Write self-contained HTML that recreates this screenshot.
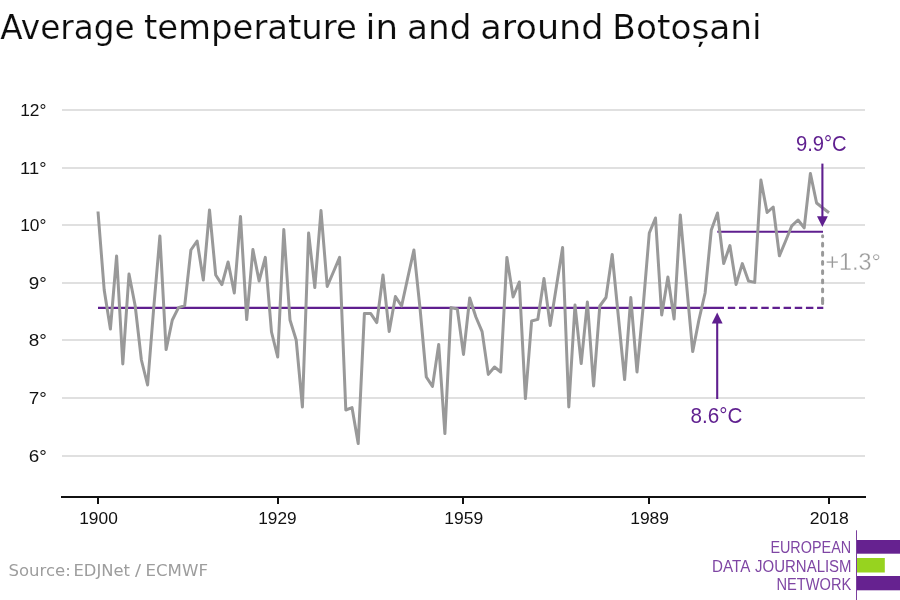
<!DOCTYPE html>
<html lang="en"><head><meta charset="utf-8"><title>Average temperature in and around Botoșani</title>
<style>
html,body{margin:0;padding:0;background:#fff;}
body{width:900px;height:600px;overflow:hidden;}
svg{display:block;will-change:transform;}
text{font-family:"Liberation Sans","DejaVu Sans",sans-serif;}
text.dj{font-family:"DejaVu Sans","Liberation Sans",sans-serif;}
</style></head><body>
<svg width="900" height="600" viewBox="0 0 900 600">
<rect width="900" height="600" fill="#fff"/>
<text class="dj" y="38.5" font-size="34.3" fill="#0c0c0c" stroke="#fff" stroke-width="0.2"><tspan x="0.36" textLength="134.40" lengthAdjust="spacingAndGlyphs">Average</tspan> <tspan x="144.01" textLength="212.79" lengthAdjust="spacingAndGlyphs">temperature</tspan> <tspan x="365.62" textLength="32.53" lengthAdjust="spacingAndGlyphs">in</tspan> <tspan x="407.00" textLength="64.42" lengthAdjust="spacingAndGlyphs">and</tspan> <tspan x="480.36" textLength="123.20" lengthAdjust="spacingAndGlyphs">around</tspan> <tspan x="612.35" textLength="149.32" lengthAdjust="spacingAndGlyphs">Botoșani</tspan></text>
<g stroke="#e0e0e0" stroke-width="2">
<line x1="62" y1="110.0" x2="865" y2="110.0"/>
<line x1="62" y1="168.0" x2="865" y2="168.0"/>
<line x1="62" y1="225.0" x2="865" y2="225.0"/>
<line x1="62" y1="283.0" x2="865" y2="283.0"/>
<line x1="62" y1="340.0" x2="865" y2="340.0"/>
<line x1="62" y1="398.0" x2="865" y2="398.0"/>
<line x1="62" y1="456.0" x2="865" y2="456.0"/>
</g>
<g fill="#111">
<text x="20.21" y="116" font-size="16.8" textLength="26.21" lengthAdjust="spacingAndGlyphs">12°</text>
<text x="20.14" y="174" font-size="16.8" textLength="26.34" lengthAdjust="spacingAndGlyphs">11°</text>
<text x="20.21" y="231" font-size="16.8" textLength="26.21" lengthAdjust="spacingAndGlyphs">10°</text>
<text x="28.66" y="289" font-size="16.8" textLength="18.02" lengthAdjust="spacingAndGlyphs">9°</text>
<text x="28.66" y="346" font-size="16.8" textLength="18.02" lengthAdjust="spacingAndGlyphs">8°</text>
<text x="28.66" y="404" font-size="16.8" textLength="18.02" lengthAdjust="spacingAndGlyphs">7°</text>
<text x="28.66" y="462" font-size="16.8" textLength="18.02" lengthAdjust="spacingAndGlyphs">6°</text>
</g>
<g stroke="#111" stroke-width="2">
<line x1="61" y1="497" x2="866" y2="497"/>
<line x1="98" y1="497" x2="98" y2="504"/>
<line x1="278" y1="497" x2="278" y2="504"/>
<line x1="463" y1="497" x2="463" y2="504"/>
<line x1="649" y1="497" x2="649" y2="504"/>
<line x1="829" y1="497" x2="829" y2="504"/>
</g>
<g fill="#111">
<text x="79.21" y="523.8" font-size="16.8" textLength="38.61" lengthAdjust="spacingAndGlyphs">1900</text>
<text x="258.22" y="523.8" font-size="16.8" textLength="38.35" lengthAdjust="spacingAndGlyphs">1929</text>
<text x="444.20" y="523.8" font-size="16.8" textLength="38.99" lengthAdjust="spacingAndGlyphs">1959</text>
<text x="630.20" y="523.8" font-size="16.8" textLength="38.88" lengthAdjust="spacingAndGlyphs">1989</text>
<text x="809.71" y="523.8" font-size="16.8" textLength="39.17" lengthAdjust="spacingAndGlyphs">2018</text>
</g>
<g stroke="#999" stroke-width="3" stroke-linecap="round">
<line x1="822.6" y1="235.8" x2="822.6" y2="236.8"/>
<line x1="822.6" y1="243.2" x2="822.6" y2="303.5" stroke-dasharray="2.8 6.37"/>
<line x1="822.6" y1="300" x2="822.6" y2="303.5"/>
</g>
<g stroke="#5f1f8f" stroke-width="2.1">
<line x1="98" y1="307.9" x2="724" y2="307.9"/>
<line x1="727.8" y1="307.9" x2="823.3" y2="307.9" stroke-dasharray="7.45 3.71"/>
<line x1="717.3" y1="231.8" x2="823" y2="231.8"/>
</g>
<polyline points="98.0,211.5 104.2,290.0 110.4,329.0 116.6,256.0 122.8,364.0 129.0,274.0 135.2,306.0 141.4,360.0 147.6,385.0 153.8,307.0 159.9,236.0 166.1,349.6 172.3,320.0 178.5,307.6 184.7,305.6 190.9,250.0 197.1,241.0 203.3,280.0 209.5,210.0 215.7,275.0 221.9,284.6 228.1,262.0 234.3,293.0 240.5,216.4 246.7,319.6 252.9,249.6 259.1,281.0 265.3,257.4 271.5,332.0 277.7,357.0 283.8,229.6 290.0,320.0 296.2,340.0 302.4,407.0 308.6,233.0 314.8,287.6 321.0,210.6 327.2,286.4 333.4,272.0 339.6,257.4 345.8,410.0 352.0,407.6 358.2,443.6 364.4,313.4 370.6,313.4 376.8,322.6 383.0,275.0 389.2,331.6 395.4,296.6 401.6,306.0 407.7,278.0 413.9,250.0 420.1,309.0 426.3,377.0 432.5,386.4 438.7,344.4 444.9,433.6 451.1,307.6 457.3,309.0 463.5,354.4 469.7,298.0 475.9,317.0 482.1,331.6 488.3,374.4 494.5,367.0 500.7,372.0 506.9,257.4 513.1,297.0 519.3,282.0 525.4,398.6 531.6,321.0 537.8,319.4 544.0,278.6 550.2,325.6 556.4,286.6 562.6,247.6 568.8,407.0 575.0,305.0 581.2,363.6 587.4,302.0 593.6,386.0 599.8,306.0 606.0,297.5 612.2,254.4 618.4,317.0 624.6,379.6 630.8,297.6 637.0,372.0 643.2,306.0 649.3,233.0 655.5,218.0 661.7,315.0 667.9,277.0 674.1,319.0 680.3,215.0 686.5,284.0 692.7,351.6 698.9,320.0 705.1,293.0 711.3,230.0 717.5,213.0 723.7,263.6 729.9,245.6 736.1,284.4 742.3,263.6 748.5,281.0 754.7,282.4 760.9,180.0 767.1,212.5 773.2,207.0 779.4,255.8 785.6,241.0 791.8,225.8 798.0,220.0 804.2,227.8 810.4,173.5 816.6,203.0 822.8,208.0 829.0,212.7" fill="none" stroke="#999" stroke-width="3" stroke-linejoin="round"/>
<g stroke="#5f1f8f" stroke-width="2.1">
<line x1="717.2" y1="322" x2="717.2" y2="399"/>
<line x1="822.4" y1="163.6" x2="822.4" y2="218"/>
</g>
<polygon points="717.2,312.6 711.8,323.4 722.6,323.4" fill="#5f1f8f"/>
<polygon points="822.4,226.9 817,216.2 827.8,216.2" fill="#5f1f8f"/>
<text x="690.59" y="422.8" font-size="22.7" fill="#5f1f8f" textLength="51.82" lengthAdjust="spacingAndGlyphs">8.6°C</text>
<text x="795.91" y="151" font-size="22.7" fill="#5f1f8f" textLength="50.78" lengthAdjust="spacingAndGlyphs">9.9°C</text>
<text x="825.48" y="270" font-size="24" fill="#999" stroke="#fff" stroke-width="0.3" textLength="55.46" lengthAdjust="spacingAndGlyphs">+1.3°</text>
<text class="dj" y="575.8" font-size="16.5" fill="#9d9d9d"><tspan x="8.50" textLength="62.23" lengthAdjust="spacingAndGlyphs">Source:</tspan> <tspan x="73.51" textLength="56.45" lengthAdjust="spacingAndGlyphs">EDJNet</tspan> <tspan x="135.00" textLength="6.07" lengthAdjust="spacingAndGlyphs">/</tspan> <tspan x="145.49" textLength="62.52" lengthAdjust="spacingAndGlyphs">ECMWF</tspan></text>
<rect x="856" y="530.3" width="1" height="69.7" fill="#7b3f9e"/>
<rect x="857" y="540" width="43" height="13.7" fill="#662290"/>
<rect x="857" y="558" width="27.8" height="14.5" fill="#97d31f"/>
<rect x="857" y="576" width="43" height="14.3" fill="#662290"/>
<g fill="#7f46a4">
<text x="770.38" y="553.4" font-size="16" textLength="80.79" lengthAdjust="spacingAndGlyphs">EUROPEAN</text>
<text y="571.8" font-size="16"><tspan x="712.04" textLength="37.40" lengthAdjust="spacingAndGlyphs">DATA</tspan> <tspan x="755.07" textLength="96.52" lengthAdjust="spacingAndGlyphs">JOURNALISM</tspan></text>
<text x="776.46" y="590" font-size="16" textLength="74.80" lengthAdjust="spacingAndGlyphs">NETWORK</text>
</g>
</svg>
</body></html>
